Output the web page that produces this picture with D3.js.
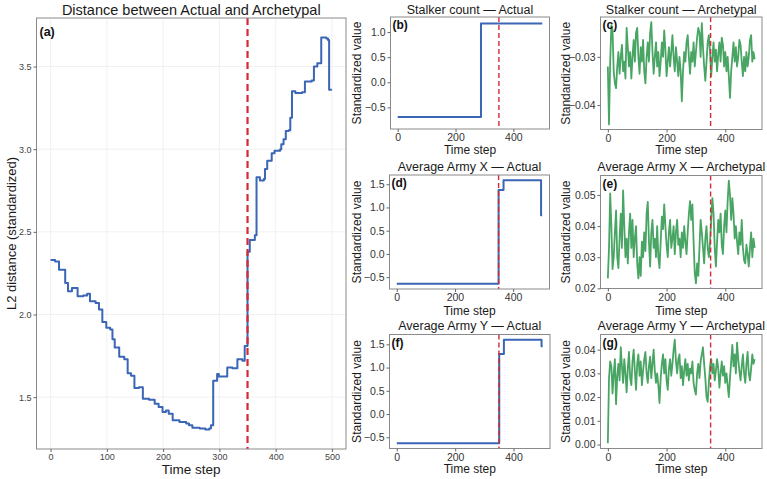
<!DOCTYPE html>
<html><head><meta charset="utf-8">
<script src="https://cdn.jsdelivr.net/npm/d3@7"></script>
<style>
body{margin:0;background:#fff}
svg{display:block}
text{font-family:"Liberation Sans",Arial,Helvetica,sans-serif}
</style>
</head><body>
<svg id="chart" width="767" height="479"></svg>
<script>
// ---------------- DATA ----------------
const cutoffStep = 350;
const timeTicksMain = [0, 100, 200, 300, 400, 500];
const timeTicksSmall = [0, 200, 400];

// (a) L2 distance between actual and archetypal (step breakpoints)
const distT = [0,8,15,26,31,38,48,58,65,70,80,86,92,99,106,110,114,122,131,137,143,149,157,164,175,185,192,199,205,210,217,229,241,246,252,265,275,282,285,289,296,299,314,323,332,341,345,350,354,363,366,372,379,381,385,393,398,408,410,414,418,423,426,429,435,447,452,464,468,474,481,490,493,495,500];
const distV = [2.33,2.32,2.27,2.19,2.14,2.16,2.11,2.115,2.125,2.08,2.07,2.03,1.955,1.92,1.91,1.85,1.80,1.745,1.73,1.645,1.63,1.555,1.56,1.49,1.485,1.46,1.44,1.41,1.42,1.40,1.36,1.35,1.34,1.33,1.315,1.31,1.305,1.31,1.33,1.60,1.64,1.625,1.68,1.675,1.73,1.72,1.81,2.38,2.45,2.48,2.83,2.81,2.82,2.88,2.93,2.975,2.99,3.0,3.03,3.06,3.11,3.115,3.19,3.35,3.34,3.345,3.41,3.415,3.50,3.52,3.675,3.67,3.66,3.36,3.36];
const distYTicks = [1.5, 2.0, 2.5, 3.0, 3.5];

// Actual trajectories (step breakpoints)
const stalkerActualT = [0, 288, 500];
const stalkerActualV = [-0.69, 1.17, 1.17];
const armyXActualT = [0, 350, 367, 496, 500];
const armyXActualV = [-0.644, 1.377, 1.587, 0.834, 0.834];
const armyYActualT = [0, 351, 367, 496, 500];
const armyYActualV = [-0.63, 1.29, 1.60, 1.457, 1.457];
const actualYTicks = [-0.5, 0.0, 0.5, 1.0, 1.5];

// Archetypal trajectories, sampled every 4 time steps (t = 0, 4, ..., 500)
const archStep = 4;
const stalkerArch = [-0.0320,-0.0440,-0.0310,-0.0235,-0.0245,-0.0330,-0.0355,-0.0365,-0.0320,-0.0290,-0.0335,-0.0300,-0.0275,-0.0330,-0.0310,-0.0345,-0.0240,-0.0280,-0.0320,-0.0290,-0.0345,-0.0300,-0.0265,-0.0310,-0.0250,-0.0240,-0.0300,-0.0335,-0.0280,-0.0310,-0.0265,-0.0330,-0.0355,-0.0300,-0.0270,-0.0310,-0.0250,-0.0228,-0.0290,-0.0335,-0.0300,-0.0270,-0.0320,-0.0290,-0.0340,-0.0310,-0.0270,-0.0300,-0.0245,-0.0285,-0.0340,-0.0310,-0.0280,-0.0320,-0.0290,-0.0255,-0.0300,-0.0330,-0.0280,-0.0310,-0.0340,-0.0300,-0.0330,-0.0392,-0.0330,-0.0290,-0.0310,-0.0270,-0.0255,-0.0300,-0.0335,-0.0290,-0.0310,-0.0270,-0.0320,-0.0290,-0.0260,-0.0240,-0.0250,-0.0300,-0.0230,-0.0280,-0.0320,-0.0350,-0.0310,-0.0270,-0.0255,-0.0290,-0.0340,-0.0300,-0.0270,-0.0310,-0.0285,-0.0330,-0.0295,-0.0270,-0.0310,-0.0260,-0.0275,-0.0320,-0.0290,-0.0330,-0.0300,-0.0340,-0.0385,-0.0330,-0.0300,-0.0270,-0.0310,-0.0280,-0.0320,-0.0300,-0.0265,-0.0275,-0.0310,-0.0340,-0.0300,-0.0330,-0.0290,-0.0320,-0.0300,-0.0265,-0.0255,-0.0310,-0.0290,-0.0305];
const armyXArch = [0.0232,0.0330,0.0505,0.0400,0.0262,0.0300,0.0380,0.0450,0.0300,0.0265,0.0360,0.0440,0.0330,0.0515,0.0400,0.0300,0.0360,0.0280,0.0380,0.0440,0.0330,0.0420,0.0300,0.0360,0.0400,0.0280,0.0232,0.0300,0.0240,0.0350,0.0300,0.0380,0.0320,0.0440,0.0478,0.0350,0.0270,0.0380,0.0420,0.0330,0.0360,0.0300,0.0400,0.0300,0.0265,0.0350,0.0430,0.0390,0.0470,0.0400,0.0340,0.0300,0.0380,0.0420,0.0330,0.0360,0.0400,0.0310,0.0380,0.0420,0.0340,0.0360,0.0300,0.0380,0.0330,0.0400,0.0350,0.0310,0.0380,0.0440,0.0480,0.0420,0.0470,0.0350,0.0250,0.0216,0.0280,0.0240,0.0330,0.0420,0.0380,0.0330,0.0280,0.0360,0.0400,0.0330,0.0300,0.0350,0.0420,0.0490,0.0440,0.0330,0.0270,0.0350,0.0420,0.0380,0.0440,0.0340,0.0310,0.0400,0.0450,0.0380,0.0480,0.0546,0.0500,0.0420,0.0490,0.0440,0.0360,0.0400,0.0350,0.0310,0.0380,0.0340,0.0420,0.0330,0.0290,0.0280,0.0340,0.0310,0.0270,0.0330,0.0380,0.0300,0.0360,0.0330];
const armyYArch = [0.0005,0.0280,0.0350,0.0330,0.0215,0.0300,0.0360,0.0170,0.0290,0.0340,0.0270,0.0410,0.0330,0.0260,0.0360,0.0300,0.0220,0.0320,0.0390,0.0280,0.0250,0.0350,0.0400,0.0310,0.0230,0.0340,0.0380,0.0290,0.0350,0.0250,0.0310,0.0360,0.0390,0.0300,0.0260,0.0330,0.0370,0.0280,0.0340,0.0400,0.0310,0.0260,0.0300,0.0250,0.0175,0.0280,0.0340,0.0380,0.0300,0.0360,0.0270,0.0230,0.0320,0.0360,0.0290,0.0340,0.0400,0.0442,0.0350,0.0300,0.0360,0.0380,0.0280,0.0330,0.0250,0.0310,0.0360,0.0290,0.0340,0.0270,0.0320,0.0300,0.0350,0.0260,0.0230,0.0210,0.0300,0.0340,0.0280,0.0350,0.0380,0.0410,0.0340,0.0280,0.0200,0.0180,0.0260,0.0330,0.0360,0.0300,0.0340,0.0270,0.0310,0.0360,0.0320,0.0240,0.0300,0.0350,0.0290,0.0330,0.0260,0.0300,0.0250,0.0200,0.0280,0.0350,0.0420,0.0330,0.0380,0.0300,0.0430,0.0360,0.0310,0.0270,0.0330,0.0380,0.0300,0.0260,0.0340,0.0390,0.0300,0.0270,0.0320,0.0380,0.0340,0.0360];
const stalkerArchTicks = [-0.04, -0.03];
const armyXArchTicks = [0.02, 0.03, 0.04, 0.05];
const armyYArchTicks = [0.00, 0.01, 0.02, 0.03, 0.04];

// ---------------- DRAWING ----------------
const svg = d3.select("#chart");
const BLUE = "#3a66b5", GREEN = "#48a563", RED = "#d42a36";

function pad(ext, f){ const d = (ext[1]-ext[0])*f; return [ext[0]-d, ext[1]+d]; }

function panel(o){
  const g = svg.append("g");
  const x = d3.scaleLinear().domain([-25, 525]).range([o.x0, o.x1]);
  const yDom = o.yDomain || pad(d3.extent(o.vals), 0.05);
  const y = d3.scaleLinear().domain(yDom).range([o.y1, o.y0]);
  const pts = o.times.map((t,i)=>[t, o.vals[i]]);

  if (o.grid){
    g.append("g").selectAll("line.gx").data(o.xTicks).join("line")
      .attr("x1", d=>x(d)).attr("x2", d=>x(d)).attr("y1", o.y0).attr("y2", o.y1)
      .attr("stroke", "#ebebeb").attr("stroke-width", 0.7);
    g.append("g").selectAll("line.gy").data(o.yTicks).join("line")
      .attr("y1", d=>y(d)).attr("y2", d=>y(d)).attr("x1", o.x0).attr("x2", o.x1)
      .attr("stroke", "#ebebeb").attr("stroke-width", 0.7);
  }

  const line = d3.line().x(d=>x(d[0])).y(d=>y(d[1])).curve(o.step ? d3.curveStepAfter : d3.curveLinear);
  g.append("path").datum(pts).attr("d", line).attr("fill","none")
    .attr("stroke", o.color).attr("stroke-width", o.lw).attr("stroke-linejoin","round");

  g.append("line").attr("x1", x(cutoffStep)).attr("x2", x(cutoffStep))
    .attr("y1", o.y0).attr("y2", o.y1).attr("stroke", RED)
    .attr("stroke-width", o.dashW).attr("stroke-dasharray", o.dash);

  g.append("rect").attr("x", o.x0).attr("y", o.y0).attr("width", o.x1-o.x0).attr("height", o.y1-o.y0)
    .attr("fill","none").attr("stroke","#8a8a8a").attr("stroke-width",1);

  const xa = g.append("g").attr("transform", `translate(0,${o.y1})`)
    .call(d3.axisBottom(x).tickValues(o.xTicks).tickSize(3).tickPadding(2).tickFormat(d3.format("d")));
  xa.select(".domain").remove();
  xa.selectAll("line").attr("stroke","#666");
  xa.selectAll("text").attr("font-size", o.tickFs).attr("fill", o.tickColor).attr("font-family","Liberation Sans");

  const ya = g.append("g").attr("transform", `translate(${o.x0},0)`)
    .call(d3.axisLeft(y).tickValues(o.yTicks).tickSize(3).tickPadding(2).tickFormat(d3.format(o.yFmt)));
  ya.select(".domain").remove();
  ya.selectAll("line").attr("stroke","#666");
  ya.selectAll("text").attr("font-size", o.tickFs).attr("fill", o.tickColor).attr("font-family","Liberation Sans");

  g.append("text").attr("x", (o.x0+o.x1)/2).attr("y", o.titleY).attr("text-anchor","middle")
    .attr("font-size", o.titleFs).attr("fill","#1a1a1a").text(o.title);
  g.append("text").attr("x", (o.x0+o.x1)/2).attr("y", o.xlabY).attr("text-anchor","middle")
    .attr("font-size", o.labFs).attr("fill","#1a1a1a").text("Time step");
  g.append("text").attr("transform", `translate(${o.ylabX},${(o.y0+o.y1)/2}) rotate(-90)`)
    .attr("text-anchor","middle").attr("font-size", o.ylabFs).attr("fill","#1a1a1a").text(o.ylab);
  g.append("text").attr("x", o.x0 + o.letterDx).attr("y", o.y0 + o.letterDy)
    .attr("font-size", o.letterFs).attr("font-weight","bold").attr("fill","#111").text(o.letter);
}

const archTimes = stalkerArch.map((_,i)=>i*archStep);

// (a)
panel({x0:36.5,x1:346,y0:18,y1:449, times:distT, vals:distV, step:true, color:BLUE, lw:2,
  xTicks:timeTicksMain, yTicks:distYTicks, yFmt:".1f", grid:true, dash:"7,4", dashW:2.2,
  tickFs:9, tickColor:"#444", title:"Distance between Actual and Archetypal", titleY:15, titleFs:14.5,
  xlabY:474, labFs:13.5, ylab:"L2 distance (standardized)", ylabX:16, ylabFs:13,
  letter:"(a)", letterDx:3, letterDy:18, letterFs:12.5});

const small = {lw:2, dash:"5,3", dashW:1.4, tickFs:10.5, tickColor:"#333", titleFs:12.5, labFs:12,
  ylab:"Standardized value", ylabFs:12, letterDx:2, letterDy:12, letterFs:12, xTicks:timeTicksSmall};

panel(Object.assign({}, small, {x0:390.5,x1:549.5,y0:17,y1:129, times:stalkerActualT, vals:stalkerActualV,
  yDomain:[-0.93,1.30], step:true, color:BLUE, yTicks:actualYTicks.slice(0,4), yFmt:".1f",
  title:"Stalker count \u2014 Actual", titleY:13.5, xlabY:154, ylabX:361, letter:"(b)"}));
panel(Object.assign({}, small, {x0:600.5,x1:762,y0:17,y1:129.5, times:archTimes, vals:stalkerArch,
  step:false, color:GREEN, lw:1.8, yTicks:stalkerArchTicks, yFmt:".2f",
  title:"Stalker count \u2014 Archetypal", titleY:13.5, xlabY:154, ylabX:570, letter:"(c)"}));
panel(Object.assign({}, small, {x0:389.5,x1:549.5,y0:175,y1:289, times:armyXActualT, vals:armyXActualV,
  step:true, color:BLUE, yTicks:actualYTicks, yFmt:".1f",
  title:"Average Army X \u2014 Actual", titleY:170.5, xlabY:314.5, ylabX:361, letter:"(d)"}));
panel(Object.assign({}, small, {x0:600.5,x1:762,y0:175.5,y1:288.5, times:archTimes, vals:armyXArch,
  step:false, color:GREEN, lw:1.8, yTicks:armyXArchTicks, yFmt:".2f",
  title:"Average Army X \u2014 Archetypal", titleY:170.5, xlabY:314.5, ylabX:570, letter:"(e)"}));
panel(Object.assign({}, small, {x0:389.5,x1:550,y0:334.5,y1:448.5, times:armyYActualT, vals:armyYActualV,
  step:true, color:BLUE, yTicks:actualYTicks, yFmt:".1f",
  title:"Average Army Y \u2014 Actual", titleY:330, xlabY:473, ylabX:361, letter:"(f)"}));
panel(Object.assign({}, small, {x0:600.5,x1:762,y0:334.5,y1:448.5, times:archTimes, vals:armyYArch,
  step:false, color:GREEN, lw:1.8, yTicks:armyYArchTicks, yFmt:".2f",
  title:"Average Army Y \u2014 Archetypal", titleY:330, xlabY:473, ylabX:570, letter:"(g)"}));
</script>
</body></html>
